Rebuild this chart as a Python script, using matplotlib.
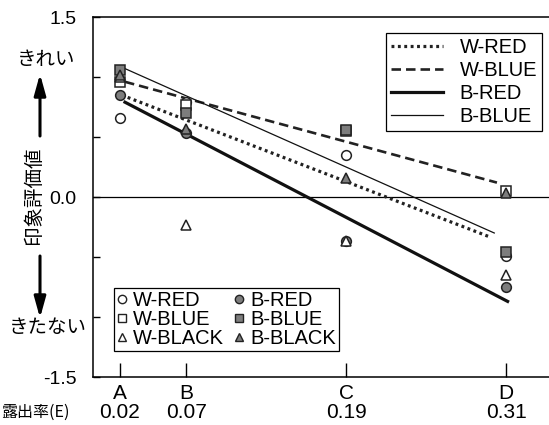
import matplotlib
matplotlib.use("Agg")
import matplotlib.pyplot as plt
from matplotlib.lines import Line2D
from matplotlib.patches import FancyArrowPatch

plt.rcParams['font.family'] = ['Liberation Sans', 'Noto Sans CJK JP', 'DejaVu Sans']
JP = ['Noto Sans CJK JP', 'DejaVu Sans']

# 露出率 for each condition
conditions = ["A", "B", "C", "D"]
exposure = [0.02, 0.07, 0.19, 0.31]

# impression scores
w_red = [0.66, 0.79, 0.35, -0.49]
b_red = [0.85, 0.53, -0.37, -0.75]
w_blue = [0.96, 0.77, 0.55, 0.05]
b_blue = [1.06, 0.70, 0.56, -0.46]
w_black = [1.00, -0.23, -0.37, -0.65]
b_black = [1.02, 0.57, 0.16, 0.03]

# fitted lines: start / end (x, y)
fit_names = ["W-RED", "W-BLUE", "B-RED", "B-BLUE"]
fit_x0 = [0.026, 0.024, 0.024, 0.024]
fit_y0 = [0.83, 0.96, 0.79, 1.07]
fit_x1 = [0.297, 0.303, 0.311, 0.301]
fit_y1 = [-0.33, 0.12, -0.87, -0.30]

fig = plt.figure(figsize=(5.49, 4.25), dpi=100)
ax = fig.add_axes([93 / 549, 1 - 377 / 425, 459 / 549, 360 / 425])

styles = [
    dict(color="#222222", lw=2.3, linestyle=(0, (0.9, 1.1))),
    dict(color="#222222", lw=1.9, linestyle=(0, (3.6, 1.9))),
    dict(color="#111111", lw=2.3, linestyle="-"),
    dict(color="#111111", lw=0.9, linestyle="-"),
]
line_handles = []
for i in range(4):
    ax.plot([fit_x0[i], fit_x1[i]], [fit_y0[i], fit_y1[i]], zorder=2, **styles[i])
    line_handles.append(Line2D([], [], **styles[i]))

gray = "#7d7d7d"
series = {
    "W-RED": (w_red, "o", "white"),
    "W-BLUE": (w_blue, "s", "white"),
    "W-BLACK": (w_black, "^", "white"),
    "B-RED": (b_red, "o", gray),
    "B-BLUE": (b_blue, "s", gray),
    "B-BLACK": (b_black, "^", gray),
}
draw_order = ["W-RED", "B-RED", "W-BLUE", "B-BLUE", "W-BLACK", "B-BLACK"]
for name in draw_order:
    vals, m, fc = series[name]
    ms = 7.5 if m == "^" else 7
    ax.plot(exposure, vals, linestyle="none", marker=m, markersize=ms,
            markerfacecolor=fc, markeredgecolor="#222222", markeredgewidth=1.1, zorder=3)

marker_handles = []
for name, (vals, m, fc) in series.items():
    marker_handles.append(Line2D([], [], linestyle="none", marker=m, markersize=6,
                                 markerfacecolor=fc, markeredgecolor="#222222",
                                 markeredgewidth=1.0, label=name))

ax.axhline(0, color="black", lw=0.9, zorder=1)

ax.set_xlim(0, 0.3443)
ax.set_ylim(-1.5, 1.5)
ax.set_xticks(exposure)
ax.set_xticklabels([c + "\n" + format(e, ".2f") for c, e in zip(conditions, exposure)],
                   fontsize=15, linespacing=1.0)
ax.set_yticks([-1.5, 0, 1.5])
ax.set_yticklabels(["-1.5", "0.0", "1.5"], fontsize=14)
ax.set_yticks([-1.0, -0.5, 0.5, 1.0], minor=True)
ax.tick_params(axis="x", direction="in", length=10, width=1, pad=5)
ax.tick_params(axis="y", which="both", direction="in", length=5, width=1, pad=12)
ax.spines["right"].set_visible(False)
for s in ["left", "top", "bottom"]:
    ax.spines[s].set_linewidth(1.1)

leg1 = ax.legend(line_handles, fit_names, loc="upper right",
                 bbox_to_anchor=(542 / 549, 1 - 33 / 425), bbox_transform=fig.transFigure,
                 fontsize=14.5, handlelength=2.6, handletextpad=0.8, labelspacing=0.2,
                 borderpad=0.25, borderaxespad=0, fancybox=False, framealpha=1,
                 edgecolor="black")
leg1.get_frame().set_linewidth(0.9)
ax.add_artist(leg1)

leg2 = ax.legend(handles=marker_handles, ncol=2, loc="lower left",
                 bbox_to_anchor=(114 / 549, 1 - 351 / 425), bbox_transform=fig.transFigure,
                 fontsize=14.5, handlelength=0.5, handletextpad=0.3, labelspacing=0.0,
                 columnspacing=0.5, borderpad=0.15, borderaxespad=0, fancybox=False,
                 framealpha=1, edgecolor="black")
leg2.get_frame().set_linewidth(0.9)

# y axis annotation
fig.text(46 / 549, 1 - 60 / 425, "きれい", family=JP, fontsize=14, ha="center", va="center")
fig.text(48 / 549, 1 - 328 / 425, "きたない", family=JP, fontsize=14, ha="center", va="center")
fig.text(33 / 549, 1 - 195 / 425, "印象評価値", family=JP, fontsize=14, rotation=90,
         ha="center", va="center")
arrow = dict(arrowstyle="-|>,head_length=0.9,head_width=0.25", color="black", lw=2.2,
             mutation_scale=14, shrinkA=0, shrinkB=0)
fig.add_artist(FancyArrowPatch((40 / 549, 1 - 136 / 425), (40 / 549, 1 - 74 / 425),
                               transform=fig.transFigure, **arrow))
fig.add_artist(FancyArrowPatch((40 / 549, 1 - 256 / 425), (40 / 549, 1 - 318 / 425),
                               transform=fig.transFigure, **arrow))
fig.text(1 / 549, 1 - 412 / 425, "露出率(E)", family=JP, fontsize=11.5, ha="left", va="center")

fig.savefig("out.png", dpi=100)
